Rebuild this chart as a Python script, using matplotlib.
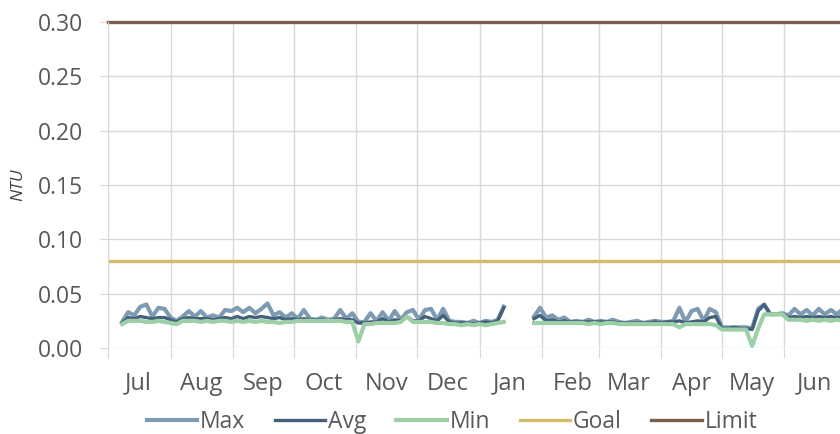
import numpy as np
import pandas as pd
import matplotlib
matplotlib.use('Agg')
import matplotlib.pyplot as plt
import matplotlib.dates as mdates

plt.rcParams['font.family'] = ['Open Sans', 'DejaVu Sans']

# Daily turbidity readings, sampled every 3 days (gap in late January)
fechas1 = pd.date_range('2022-07-08', '2023-01-13', freq='3D')
max1 = [0.024, 0.033, 0.030, 0.038, 0.040, 0.029, 0.037, 0.036,
        0.028, 0.025, 0.029, 0.034, 0.029, 0.034, 0.028, 0.030, 0.028, 0.035, 0.034,
        0.037, 0.033, 0.037, 0.032, 0.036, 0.041, 0.030, 0.033, 0.028, 0.032,
        0.027, 0.035, 0.027, 0.026, 0.028, 0.026, 0.027, 0.035, 0.027, 0.032,
        0.024, 0.024, 0.032, 0.025, 0.033, 0.025, 0.034, 0.026, 0.033, 0.035,
        0.026, 0.035, 0.036, 0.026, 0.036, 0.025, 0.024, 0.024, 0.023, 0.025,
        0.023, 0.025, 0.024, 0.026, 0.038]
avg1 = [0.023, 0.028, 0.027, 0.029, 0.028, 0.027, 0.028, 0.028,
        0.026, 0.024, 0.027, 0.028, 0.027, 0.027, 0.027, 0.026, 0.027, 0.028, 0.027,
        0.029, 0.027, 0.029, 0.028, 0.029, 0.028, 0.027, 0.028, 0.026, 0.027,
        0.026, 0.027, 0.026, 0.026, 0.026, 0.025, 0.026, 0.027, 0.026, 0.026,
        0.023, 0.023, 0.024, 0.024, 0.027, 0.024, 0.026, 0.025, 0.029, 0.025,
        0.025, 0.029, 0.027, 0.025, 0.030, 0.024, 0.023, 0.023, 0.023, 0.022,
        0.023, 0.024, 0.023, 0.025, 0.037]
min1 = [0.022, 0.025, 0.025, 0.025, 0.024, 0.024, 0.025, 0.024,
        0.023, 0.022, 0.025, 0.025, 0.025, 0.024, 0.025, 0.024, 0.025, 0.025, 0.024,
        0.025, 0.024, 0.025, 0.024, 0.025, 0.024, 0.024, 0.023, 0.024, 0.024,
        0.025, 0.025, 0.025, 0.025, 0.025, 0.025, 0.025, 0.025, 0.024, 0.024,
        0.006, 0.022, 0.022, 0.023, 0.023, 0.023, 0.023, 0.024, 0.029, 0.024,
        0.024, 0.024, 0.024, 0.023, 0.023, 0.022, 0.022, 0.021, 0.022, 0.021,
        0.022, 0.021, 0.022, 0.023, 0.024]

fechas2 = pd.date_range('2023-01-28', '2023-06-30', freq='3D')
max2 = [0.029, 0.037, 0.028, 0.030, 0.026, 0.028, 0.024, 0.025, 0.024, 0.026, 0.024,
        0.025, 0.024, 0.026, 0.024, 0.023, 0.024, 0.025, 0.023, 0.024, 0.025,
        0.024, 0.024, 0.025, 0.037, 0.024, 0.034, 0.036, 0.025, 0.036, 0.033,
        0.019, 0.019, 0.019, 0.019, 0.019, 0.018, 0.036, 0.040, 0.031, 0.031, 0.032,
        0.030, 0.036, 0.031, 0.035, 0.030, 0.036, 0.031, 0.035, 0.031, 0.036]
avg2 = [0.027, 0.030, 0.025, 0.026, 0.024, 0.025, 0.024, 0.024, 0.024, 0.024, 0.024,
        0.024, 0.024, 0.024, 0.023, 0.023, 0.023, 0.023, 0.023, 0.023, 0.024,
        0.023, 0.024, 0.024, 0.025, 0.023, 0.024, 0.025, 0.024, 0.028, 0.029,
        0.018, 0.018, 0.019, 0.018, 0.018, 0.017, 0.034, 0.040, 0.031, 0.031, 0.031,
        0.028, 0.029, 0.028, 0.029, 0.028, 0.029, 0.028, 0.029, 0.028, 0.029]
min2 = [0.023, 0.023, 0.023, 0.023, 0.023, 0.023, 0.023, 0.023, 0.023, 0.022, 0.023,
        0.022, 0.023, 0.023, 0.022, 0.022, 0.022, 0.022, 0.022, 0.022, 0.022,
        0.022, 0.022, 0.022, 0.019, 0.022, 0.022, 0.022, 0.022, 0.022, 0.021,
        0.017, 0.017, 0.017, 0.017, 0.017, 0.002, 0.018, 0.031, 0.031, 0.031, 0.031,
        0.026, 0.026, 0.026, 0.025, 0.026, 0.025, 0.026, 0.025, 0.026, 0.025]

goal = 0.08
limit = 0.30

meses = ['Jul', 'Aug', 'Sep', 'Oct', 'Nov', 'Dec', 'Jan', 'Feb', 'Mar', 'Apr', 'May', 'Jun']

# join both segments with a NaN so the line breaks in the gap
fechas = list(fechas1) + [pd.Timestamp('2023-01-20')] + list(fechas2)
s_max = max1 + [np.nan] + max2
s_avg = avg1 + [np.nan] + avg2
s_min = min1 + [np.nan] + min2

fig = plt.figure(figsize=(8.4, 4.34), dpi=100)
ax = fig.add_axes([108 / 840, 1 - 348 / 434, 737 / 840, 326 / 434])

inicio = pd.Timestamp('2022-07-01')
fim = pd.Timestamp('2023-07-01')

ax.plot(fechas, s_max, color='#7f9bb3', lw=3.0, label='Max')
ax.plot(fechas, s_avg, color='#45607a', lw=2.4, label='Avg')
ax.plot(fechas, s_min, color='#9ccfa6', lw=3.0, label='Min')
ax.plot([inicio, fim], [goal, goal], color='#d4bd6a', lw=2.4, label='Goal')
ax.plot([inicio, fim], [limit, limit], color='#7c5d4e', lw=2.4, label='Limit', clip_on=False)

ax.set_xlim(inicio, fim)
ax.set_ylim(0, 0.30)
ax.set_yticks(np.arange(0, 0.301, 0.05))
ax.set_yticklabels([f'{v:.2f}' for v in np.arange(0, 0.301, 0.05)])

# month boundaries as gridlines, labels in the middle of each month
ax.xaxis.set_major_locator(mdates.MonthLocator())
ax.xaxis.set_major_formatter(plt.NullFormatter())
ax.xaxis.set_minor_locator(mdates.MonthLocator(bymonthday=16))
ax.xaxis.set_minor_formatter(plt.FixedFormatter(meses))

ax.grid(True, which='major', color='#d9d9d9', lw=1)
ax.set_axisbelow(True)
for lado in ['top', 'right', 'bottom']:
    ax.spines[lado].set_visible(False)
ax.spines['left'].set_color('#d9d9d9')

ax.tick_params(axis='y', which='major', length=6, color='#d9d9d9', labelsize=16.5,
               labelcolor='#595959', pad=12)
ax.tick_params(axis='x', which='major', length=7, color='#d9d9d9')
ax.tick_params(axis='x', which='minor', length=0, labelsize=17, labelcolor='#595959', pad=17)

ax.set_ylabel('NTU', fontsize=12.5, fontstyle='italic', color='#404040', labelpad=8)

fig.legend(loc='center', bbox_to_anchor=(452 / 840, 1 - 422 / 434), ncol=5, frameon=False,
           fontsize=16.5, labelcolor='#595959', handlelength=2.2, handletextpad=0.12,
           columnspacing=1.3)

fig.savefig('out.png', dpi=100)
